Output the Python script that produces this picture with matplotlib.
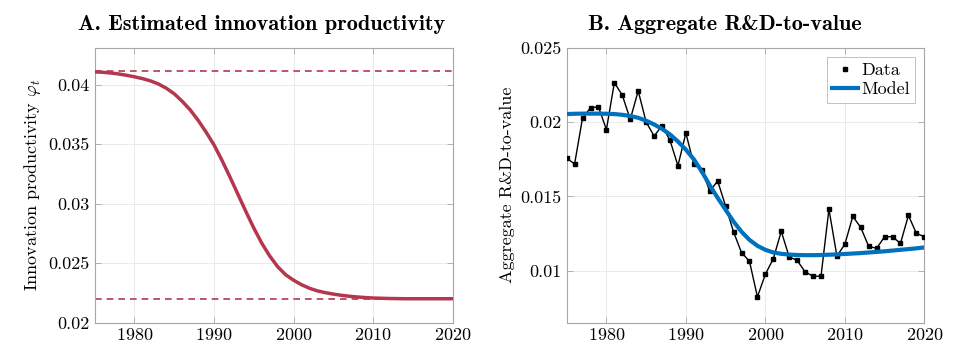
from __future__ import annotations

import matplotlib

matplotlib.use("Agg")
import matplotlib.pyplot as plt
import numpy as np

plt.rcParams["font.family"] = ["cmr10", "DejaVu Serif"]
plt.rcParams["mathtext.fontset"] = "cm"
plt.rcParams["axes.formatter.use_mathtext"] = True
plt.rcParams["axes.unicode_minus"] = False

FONT_SIZES = {"title": 16, "label": 13, "tick": 13}

# ---- panel A: estimated innovation productivity ----
years = np.arange(1975, 2021)
phi_t = [
    0.04110, 0.04106, 0.04100, 0.04092, 0.04081, 0.04068, 0.04053, 0.04034,
    0.04008, 0.03972, 0.03925, 0.03862, 0.03790, 0.03702, 0.03603, 0.03495,
    0.03365, 0.03225, 0.03080, 0.02935, 0.02795, 0.02668, 0.02560, 0.02470,
    0.02402, 0.02356, 0.02318, 0.02288, 0.02266, 0.02251, 0.02239, 0.02229,
    0.02221, 0.02215, 0.02210, 0.02206, 0.02204, 0.02202, 0.02201, 0.02200,
    0.02200, 0.02200, 0.02200, 0.02200, 0.02200, 0.02200,
]
phi_start = 0.04113
phi_end = 0.02198

# ---- panel B: aggregate R&D-to-value ----
rd_data = [
    0.01757, 0.01719, 0.02030, 0.02097, 0.02104, 0.01950, 0.02267, 0.02182,
    0.02019, 0.02211, 0.02001, 0.01907, 0.01976, 0.01878, 0.01707, 0.01927,
    0.01716, 0.01681, 0.01535, 0.01604, 0.01434, 0.01260, 0.01121, 0.01063,
    0.00823, 0.00975, 0.01080, 0.01264, 0.01092, 0.01069, 0.00991, 0.00962,
    0.00962, 0.01414, 0.01098, 0.01177, 0.01365, 0.01291, 0.01163, 0.01150,
    0.01228, 0.01228, 0.01183, 0.01372, 0.01251, 0.01228,
]
rd_model = [
    0.02055, 0.02057, 0.02058, 0.02058, 0.02058, 0.02057, 0.02055, 0.02050,
    0.02042, 0.02030, 0.02010, 0.01985, 0.01955, 0.01918, 0.01870, 0.01815,
    0.01750, 0.01668, 0.01575, 0.01490, 0.01410, 0.01330, 0.01262, 0.01207,
    0.01167, 0.01140, 0.01122, 0.01113, 0.01108, 0.01105, 0.01104, 0.01104,
    0.01105, 0.01107, 0.01109, 0.01112, 0.01115, 0.01118, 0.01122, 0.01126,
    0.01130, 0.01135, 0.01140, 0.01145, 0.01150, 0.01156,
]

RED = "#b5364f"
BLUE = "#0072bd"
EDGE = "#a6a6a6"


def _style_axes(ax):
    ax.set_xlim(1975, 2020)
    ax.set_xticks([1980, 1990, 2000, 2010, 2020])
    ax.tick_params(axis="both", labelsize=FONT_SIZES["tick"], direction="in",
                   top=True, right=True, length=4, color=EDGE, width=0.6)
    ax.grid(True, color="#e6e6e6", linewidth=0.6)
    ax.set_axisbelow(True)
    for spine in ax.spines.values():
        spine.set_color(EDGE)
        spine.set_linewidth(0.8)


fig = plt.figure(figsize=(9.7, 3.64), dpi=100)
ax_a = fig.add_axes([0.0976, 0.1140, 0.3691, 0.7540])
ax_b = fig.add_axes([0.5842, 0.1140, 0.3687, 0.7540])

ax_a.plot(years, phi_t, color=RED, linewidth=2.5, zorder=3)
ax_a.axhline(phi_start, color=RED, linestyle=(0, (4, 3)), linewidth=1.2)
ax_a.axhline(phi_end, color=RED, linestyle=(0, (4, 3)), linewidth=1.2)
_style_axes(ax_a)
ax_a.set_ylim(0.02, 0.0431)
ax_a.set_yticks([0.02, 0.025, 0.03, 0.035, 0.04])
ax_a.set_yticklabels(["0.02", "0.025", "0.03", "0.035", "0.04"])
ax_a.set_ylabel(r"Innovation productivity $\varphi_t$", fontsize=FONT_SIZES["label"])

ax_b.plot(years, rd_data, color="black", linewidth=1.0, marker="s",
          markersize=3.5, label="Data", zorder=3)
ax_b.plot(years, rd_model, color=BLUE, linewidth=3.0, label="Model", zorder=4)
_style_axes(ax_b)
ax_b.set_ylim(0.0065, 0.025)
ax_b.set_yticks([0.01, 0.015, 0.02, 0.025])
ax_b.set_yticklabels(["0.01", "0.015", "0.02", "0.025"])
ax_b.set_ylabel("Aggregate R&D-to-value", fontsize=FONT_SIZES["label"])

handles, labels = ax_b.get_legend_handles_labels()
data_handle = plt.Line2D([], [], color="black", marker="s", markersize=3,
                         linestyle="none")
leg = ax_b.legend([data_handle, handles[1]], labels, loc="upper right",
                  fontsize=FONT_SIZES["tick"], frameon=True, fancybox=False,
                  handlelength=1.4, handletextpad=0.2, borderpad=0.3,
                  labelspacing=0.2, borderaxespad=0.5)
leg.get_frame().set_edgecolor(EDGE)
leg.get_frame().set_linewidth(0.6)

fig.text(262 / 970, 1 - 25 / 364, "A. Estimated innovation productivity",
         ha="center", va="center", fontsize=FONT_SIZES["title"], family="cmb10")
fig.text(725 / 970, 1 - 25 / 364, "B. Aggregate R&D-to-value",
         ha="center", va="center", fontsize=FONT_SIZES["title"], family="cmb10")

fig.savefig("out.png", dpi=100)
plt.close(fig)
